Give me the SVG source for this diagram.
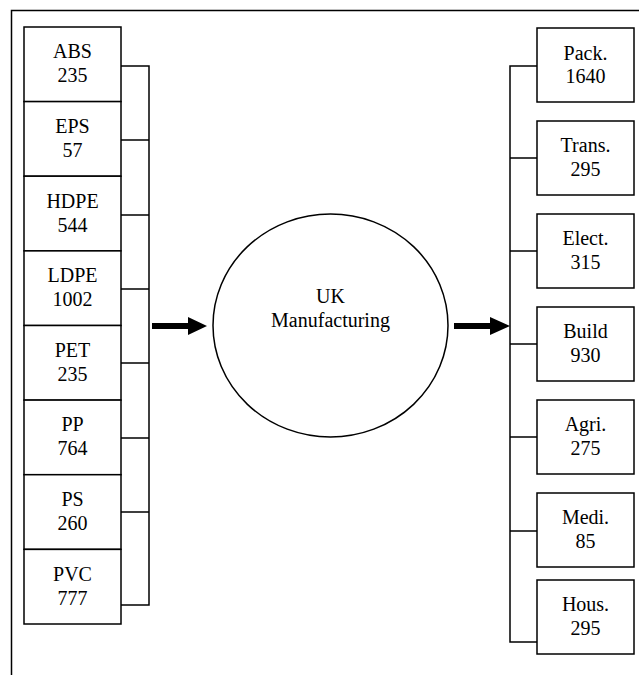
<svg xmlns="http://www.w3.org/2000/svg" width="639" height="675" viewBox="0 0 639 675">
<style>
.box{fill:#fff;stroke:#000;stroke-width:1.5}
.ln{fill:none;stroke:#000;stroke-width:1.5}
text{font-family:'Liberation Serif','DejaVu Serif',serif;font-size:20px;fill:#000;text-anchor:middle}
</style>
<rect width="639" height="675" fill="#fff"/>
<path class="ln" d="M11.5,680 V10.5 H645"/>
<g id="connectors">
<path class="ln" d="M121,66 H149 V605 H121 M121,140 H149 M121,215 H149 M121,289 H149 M121,363 H149 M121,438 H149 M121,512 H149"/>
<path class="ln" d="M537,66 H510 V642 H537 M510,158 H537 M510,251 H537 M510,344 H537 M510,437 H537 M510,531 H537"/>
<path d="M152,323 H188 V317 L207,326 L188,335 V329 H152 Z" fill="#000"/>
<path d="M454,323 H490 V317 L510,326 L490,335 V329 H454 Z" fill="#000"/>
</g>
<g id="abs"><rect class="box" x="24" y="27" width="97" height="74.6"/><text x="72.5" y="58">ABS</text><text x="72.5" y="82">235</text></g>
<g id="eps"><rect class="box" x="24" y="101.6" width="97" height="74.6"/><text x="72.5" y="133">EPS</text><text x="72.5" y="157">57</text></g>
<g id="hdpe"><rect class="box" x="24" y="176.2" width="97" height="74.6"/><text x="72.5" y="207.5">HDPE</text><text x="72.5" y="231.5">544</text></g>
<g id="ldpe"><rect class="box" x="24" y="250.9" width="97" height="74.6"/><text x="72.5" y="282">LDPE</text><text x="72.5" y="306">1002</text></g>
<g id="pet"><rect class="box" x="24" y="325.5" width="97" height="74.6"/><text x="72.5" y="356.5">PET</text><text x="72.5" y="380.5">235</text></g>
<g id="pp"><rect class="box" x="24" y="400.1" width="97" height="74.6"/><text x="72.5" y="431">PP</text><text x="72.5" y="455">764</text></g>
<g id="ps"><rect class="box" x="24" y="474.7" width="97" height="74.6"/><text x="72.5" y="505.5">PS</text><text x="72.5" y="529.5">260</text></g>
<g id="pvc"><rect class="box" x="24" y="549.4" width="97" height="74.6"/><text x="72.5" y="580.5">PVC</text><text x="72.5" y="604.5">777</text></g>
<g id="uk"><ellipse cx="330.5" cy="325.5" rx="117.5" ry="111.5" fill="#fff" stroke="#000" stroke-width="1.5"/><text x="330.5" y="303">UK</text><text x="330.5" y="327">Manufacturing</text></g>
<g id="pack"><rect class="box" x="537" y="28" width="97" height="74"/><text x="585.5" y="59.5">Pack.</text><text x="585.5" y="83">1640</text></g>
<g id="trans"><rect class="box" x="537" y="121" width="97" height="74"/><text x="585.5" y="152">Trans.</text><text x="585.5" y="176">295</text></g>
<g id="elect"><rect class="box" x="537" y="214" width="97" height="74"/><text x="585.5" y="245">Elect.</text><text x="585.5" y="269">315</text></g>
<g id="build"><rect class="box" x="537" y="307" width="97" height="74"/><text x="585.5" y="338">Build</text><text x="585.5" y="362">930</text></g>
<g id="agri"><rect class="box" x="537" y="400" width="97" height="74"/><text x="585.5" y="431">Agri.</text><text x="585.5" y="455">275</text></g>
<g id="medi"><rect class="box" x="537" y="493" width="97" height="74"/><text x="585.5" y="524">Medi.</text><text x="585.5" y="548">85</text></g>
<g id="hous"><rect class="box" x="537" y="580" width="97" height="74"/><text x="585.5" y="611">Hous.</text><text x="585.5" y="635">295</text></g>
</svg>
